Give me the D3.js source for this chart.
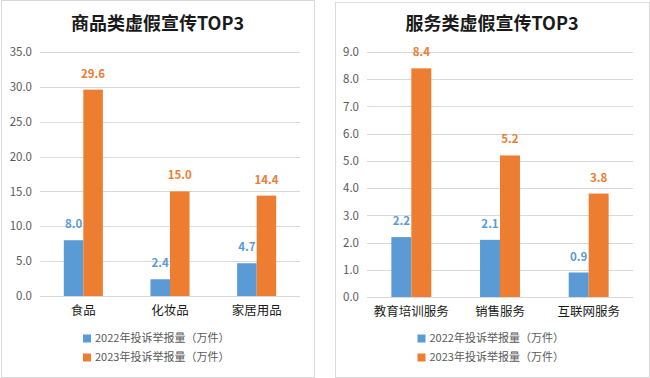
<!DOCTYPE html>
<html><head><meta charset="utf-8">
<script src="https://cdn.jsdelivr.net/npm/d3@7"></script>
<style>
html,body{margin:0;padding:0;background:#fff;}
svg{display:block;}
text{font-family:"Noto Sans CJK SC","Open Sans",sans-serif;}
</style></head>
<body>
<svg id="chart" width="650" height="378"></svg>
<script>
const seriesNames = ["2022年投诉举报量（万件）", "2023年投诉举报量（万件）"];
const colors = ["#5B9BD5", "#ED7D31"];

const goodsTitle = "商品类虚假宣传TOP3";
const goodsCategories = ["食品", "化妆品", "家居用品"];
const goods2022 = [8.0, 2.4, 4.7];
const goods2023 = [29.6, 15.0, 14.4];
const goodsTicks = [0, 5, 10, 15, 20, 25, 30, 35];

const serviceTitle = "服务类虚假宣传TOP3";
const serviceCategories = ["教育培训服务", "销售服务", "互联网服务"];
const service2022 = [2.2, 2.1, 0.9];
const service2023 = [8.4, 5.2, 3.8];
const serviceTicks = [0, 1, 2, 3, 4, 5, 6, 7, 8, 9];

const svg = d3.select("#chart");

function panel(cfg) {
  const g = svg.append("g");
  g.append("rect").attr("x", cfg.box[0] + 0.5).attr("y", cfg.box[1] + 0.5)
    .attr("width", cfg.box[2] - cfg.box[0]).attr("height", cfg.box[3] - cfg.box[1])
    .attr("fill", "#fff").attr("stroke", "#d9d9d9");
  const cx = (cfg.box[0] + cfg.box[2]) / 2;
  g.append("text").attr("x", cx).attr("y", 30).attr("text-anchor", "middle")
    .attr("font-size", 18).attr("font-weight", "bold").attr("fill", "#1a1a1a").text(cfg.title);

  const y = d3.scaleLinear().domain([0, d3.max(cfg.ticks)]).range([cfg.y0, cfg.y1]);
  const x0 = d3.scaleBand().domain(cfg.categories).range([cfg.xl, cfg.xr]).padding(0);
  const x1 = d3.scaleBand().domain([0, 1]).range([0, x0.bandwidth()]).paddingInner(0).paddingOuter(1.22);

  // gridlines
  g.append("g").selectAll("line").data(cfg.ticks).join("line")
    .attr("x1", cfg.xl).attr("x2", cfg.xr)
    .attr("y1", d => Math.round(y(d)) + 0.5).attr("y2", d => Math.round(y(d)) + 0.5)
    .attr("stroke", "#d9d9d9").attr("stroke-width", 1);

  // y axis labels
  const yAxis = d3.axisLeft(y).tickValues(cfg.ticks).tickFormat(d3.format(".1f")).tickSize(0).tickPadding(0);
  const ya = g.append("g").attr("transform", `translate(${cfg.xl - 8},0)`).call(yAxis);
  ya.select(".domain").remove();
  ya.selectAll("text").attr("font-size", 11.5).attr("fill", "#595959")
    .attr("font-family", "'Open Sans','Noto Sans',sans-serif");

  // x axis labels
  const xAxis = d3.axisBottom(x0).tickSize(0).tickPadding(0);
  const xa = g.append("g").attr("transform", `translate(0,${cfg.y0 + 10})`).call(xAxis);
  xa.select(".domain").remove();
  xa.selectAll("text").attr("font-size", 12.5).attr("fill", "#1a1a1a")
    .attr("font-family", "'Noto Sans CJK SC',sans-serif");

  const vals = [cfg.v2022, cfg.v2023];
  vals.forEach((arr, si) => {
    const gg = g.append("g");
    gg.selectAll("rect").data(arr).join("rect")
      .attr("x", (d, i) => x0(cfg.categories[i]) + x1(si))
      .attr("width", x1.bandwidth())
      .attr("y", d => y(d)).attr("height", d => y(0) - y(d))
      .attr("fill", colors[si]);
    gg.selectAll("text").data(arr).join("text")
      .attr("x", (d, i) => x0(cfg.categories[i]) + x1(si) + x1.bandwidth() / 2)
      .attr("y", d => y(d) - 12)
      .attr("text-anchor", "middle").attr("font-size", 11.5).attr("font-weight", "bold")
      .attr("font-family", "'Open Sans','Noto Sans',sans-serif")
      .attr("fill", colors[si]).text(d => d3.format(".1f")(d));
  });

  // legend
  const lw = 149;
  const lx = cx - lw / 2;
  seriesNames.forEach((n, i) => {
    const ly = 338.5 + i * 19;
    g.append("rect").attr("x", lx).attr("y", ly - 4).attr("width", 8).attr("height", 8).attr("fill", colors[i]);
    g.append("text").attr("x", lx + 12).attr("y", ly).attr("dy", "0.35em")
      .attr("font-size", 11).attr("fill", "#595959").text(n);
  });
}

panel({box: [1, 0, 314, 377], title: goodsTitle, categories: goodsCategories,
  v2022: goods2022, v2023: goods2023, ticks: goodsTicks, xl: 40, xr: 300, y0: 296, y1: 52});
panel({box: [335, 2, 649, 377], title: serviceTitle, categories: serviceCategories,
  v2022: service2022, v2023: service2023, ticks: serviceTicks, xl: 367, xr: 633, y0: 297, y1: 52});
</script>
</body></html>
